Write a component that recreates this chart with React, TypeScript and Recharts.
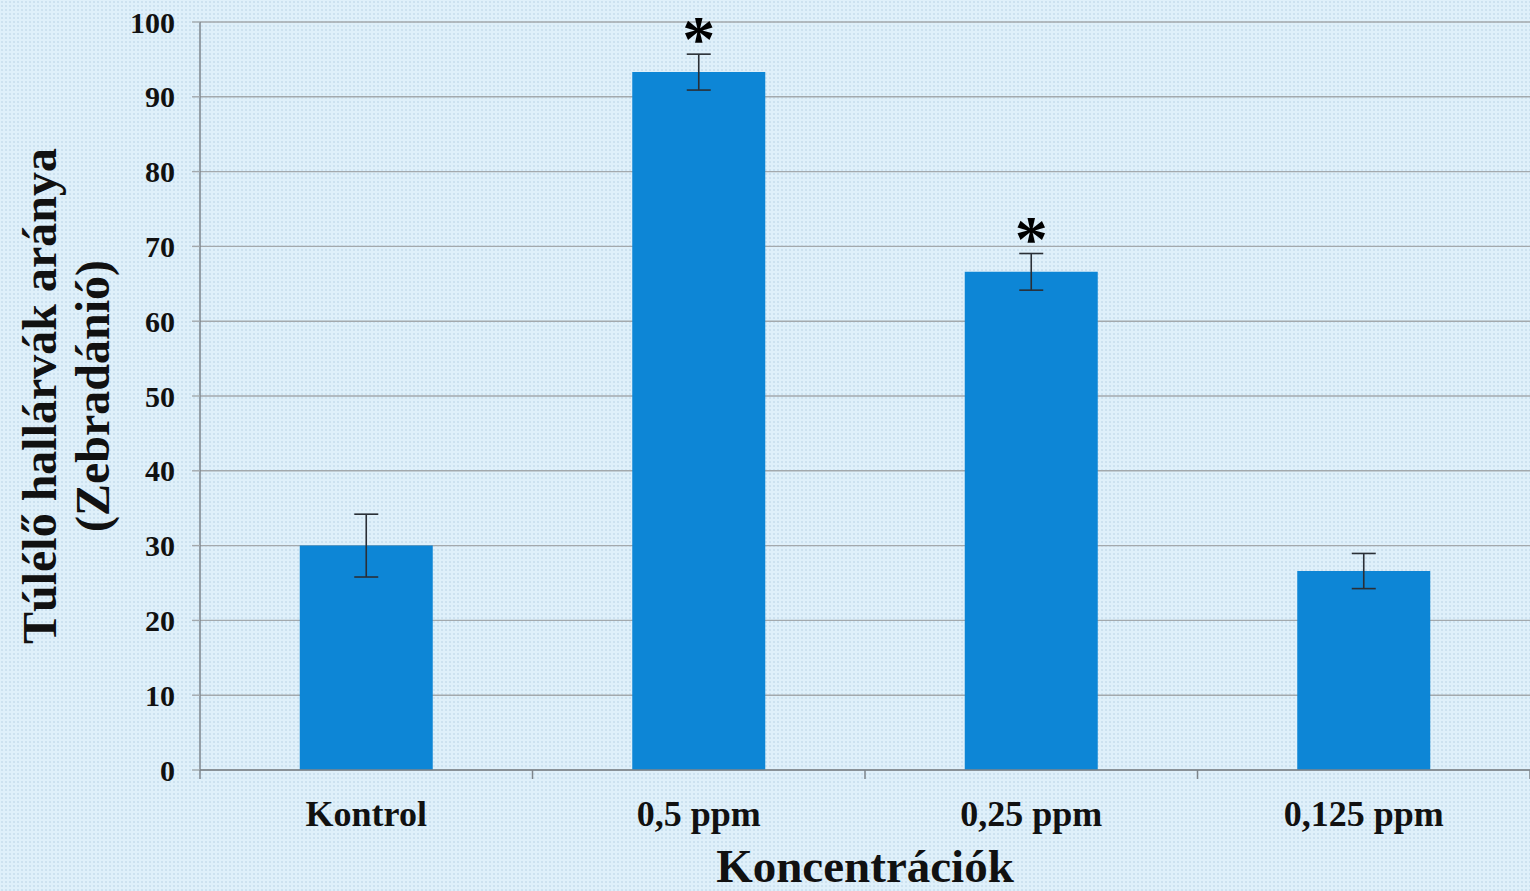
import React from "react";
import {
  ComposedChart,
  Bar,
  Line,
  XAxis,
  YAxis,
  CartesianGrid,
  ErrorBar,
} from "recharts";

const categories = ["Kontrol", "0,5 ppm", "0,25 ppm", "0,125 ppm"];
const survival = [30, 93.3, 66.6, 26.6];
const errors = [4.2, 2.4, 2.45, 2.35];
const significant = [false, true, true, false];
const yTicks = [0, 10, 20, 30, 40, 50, 60, 70, 80, 90, 100];

const data = categories.map((c, i) => ({
  name: c,
  value: survival[i],
  err: errors[i],
  star: significant[i] ? survival[i] + errors[i] : null,
}));

const CHART_W = 1530;
const CHART_H = 891;
const Y_AXIS_W = 200;
const FONT = "'Liberation Serif', 'Times New Roman', serif";
const BG = "#dff0fa";
const GRID = "#a3a9ad";
const AXIS = "#7d858b";
const TICK_GAP = 30;

const StarDot = (props: any) => {
  const { cx, cy, payload, index } = props;
  if (payload == null || payload.star == null || cy == null) return <g key={"s" + index} />;
  return (
    <text
      key={"s" + index}
      x={cx}
      y={cy + 7}
      textAnchor="middle"
      fontFamily={FONT}
      fontWeight="bold"
      fontSize={66}
      fill="#000"
    >
      *
    </text>
  );
};

const CatTick = (props: any) => {
  const { x, y, payload, index } = props;
  const fallbackHalf = (CHART_W - Y_AXIS_W) / categories.length / 2;
  const half = payload && payload.offset > 0 ? payload.offset : fallbackHalf;
  const axisY = y - TICK_GAP;
  const isLast = index === categories.length - 1;
  return (
    <g>
      <line x1={x - half} x2={x - half} y1={axisY} y2={axisY + 9} stroke={AXIS} strokeWidth={1.5} />
      {isLast && (
        <line x1={x + half} x2={x + half} y1={axisY} y2={axisY + 9} stroke={AXIS} strokeWidth={1.5} />
      )}
      <text
        x={x}
        y={y}
        dy="0.71em"
        textAnchor="middle"
        fontFamily={FONT}
        fontWeight="bold"
        fontSize={36}
        fill="#111"
      >
        {payload.value}
      </text>
    </g>
  );
};

const YLabel = (props: any) => {
  const vb = props.viewBox || {};
  const cy = (vb.y ?? 22) + (vb.height ?? 748) / 2;
  return (
    <g>
      <text
        transform={`translate(56, ${cy}) rotate(-90)`}
        textAnchor="middle"
        fontFamily={FONT}
        fontWeight="bold"
        fontSize={48}
        fill="#111"
      >
        Túlélő hallárvák aránya
      </text>
      <text
        transform={`translate(109, ${cy}) rotate(-90)`}
        textAnchor="middle"
        fontFamily={FONT}
        fontWeight="bold"
        fontSize={48}
        fill="#111"
      >
        (Zebradánió)
      </text>
    </g>
  );
};

const XLabel = (props: any) => {
  const vb = props.viewBox || {};
  const cx = (vb.x ?? 200) + (vb.width ?? 1330) / 2;
  return (
    <text
      x={cx}
      y={(vb.y ?? 770) + 112}
      textAnchor="middle"
      fontFamily={FONT}
      fontWeight="bold"
      fontSize={47}
      fill="#111"
    >
      Koncentrációk
    </text>
  );
};

export default function App() {
  return (
    <div
      style={{
        position: "absolute",
        left: 0,
        top: 0,
        width: CHART_W,
        height: CHART_H,
        background: BG,
        backgroundImage:
          "radial-gradient(rgba(170,200,220,0.35) 0.8px, transparent 1px)",
        backgroundSize: "4px 4px",
      }}
    >
      <ComposedChart
        width={CHART_W}
        height={CHART_H}
        data={data}
        margin={{ top: 22, right: 0, bottom: 0, left: 0 }}
        barCategoryGap="30%"
      >
        <CartesianGrid vertical={false} stroke={GRID} strokeWidth={1.4} />
        <XAxis
          dataKey="name"
          height={121}
          axisLine={{ stroke: AXIS, strokeWidth: 1.5 }}
          tickLine={false}
          tickSize={0}
          tickMargin={TICK_GAP}
          interval={0}
          tick={<CatTick />}
          label={<XLabel />}
        />
        <YAxis
          domain={[0, 100]}
          ticks={yTicks}
          width={Y_AXIS_W}
          tickSize={8}
          tickMargin={17}
          interval={0}
          axisLine={{ stroke: AXIS, strokeWidth: 1.5 }}
          tickLine={{ stroke: GRID, strokeWidth: 1.4 }}
          tick={{ fontFamily: FONT, fontWeight: "bold", fontSize: 30, fill: "#111" }}
          label={<YLabel />}
        />
        <Bar dataKey="value" fill="#0d86d6" isAnimationActive={false}>
          <ErrorBar dataKey="err" width={12} stroke="#2a2f36" strokeWidth={1.6} />
        </Bar>
        <Line
          dataKey="star"
          stroke="none"
          dot={<StarDot />}
          activeDot={false}
          isAnimationActive={false}
          legendType="none"
        />
      </ComposedChart>
    </div>
  );
}
